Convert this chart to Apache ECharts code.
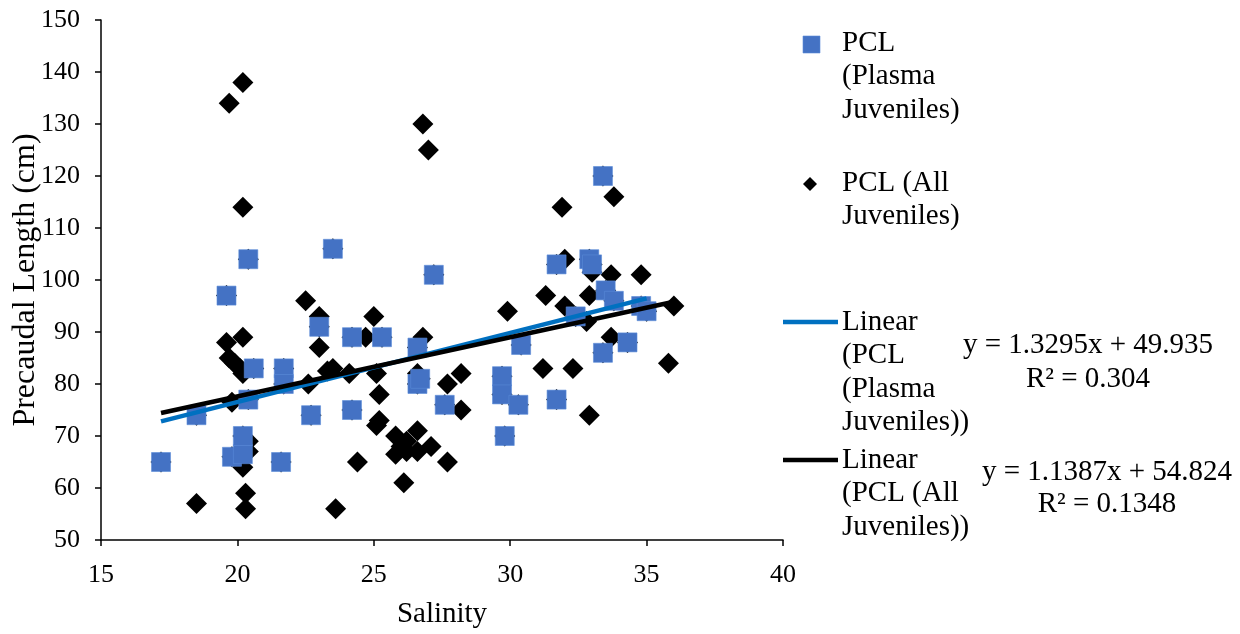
<!DOCTYPE html>
<html>
<head>
<meta charset="utf-8">
<script src="https://cdn.jsdelivr.net/npm/echarts@6/dist/echarts.min.js"></script>
<style>
  html, body { margin: 0; padding: 0; background: #ffffff; }
  #chart { width: 1240px; height: 634px; }
</style>
</head>
<body>
<div id="chart"></div>
<script>
// Salinity (x) and precaudal length in cm (y) for juveniles sampled for plasma
const plasmaJuveniles = [
  [17.2, 65], [18.5, 74], [19.6, 97], [19.8, 66], [20.2, 66.5], [20.2, 70],
  [20.4, 104], [20.6, 83], [20.4, 77], [21.7, 83], [21.7, 80], [21.6, 65],
  [22.7, 74], [23.0, 91], [23.5, 106], [24.2, 89], [24.2, 75], [25.3, 89],
  [26.6, 87], [26.6, 80], [26.7, 81], [27.2, 101], [27.6, 76], [29.7, 81.5],
  [29.7, 78], [29.8, 70], [30.4, 87.5], [30.3, 76], [31.7, 103], [31.7, 77],
  [32.9, 104], [33.0, 103], [33.4, 120], [33.5, 98], [33.8, 96], [32.4, 93],
  [33.4, 86], [34.3, 88], [34.8, 95], [35.0, 94]
];
// Remaining juveniles (measured only)
const otherJuveniles = [
  [18.5, 57], [19.7, 134], [20.2, 138], [20.2, 114], [19.6, 88], [20.2, 89],
  [19.7, 85], [19.9, 84], [20.1, 83], [20.2, 82], [19.8, 76.5], [20.4, 69],
  [20.4, 67], [20.2, 64], [20.3, 59], [20.3, 56], [22.5, 96], [22.6, 80],
  [23.0, 93], [23.0, 87], [23.3, 82.5], [23.5, 83], [24.1, 82], [24.7, 89],
  [25.0, 93], [25.1, 82], [25.2, 78], [25.2, 73], [25.1, 72], [24.4, 65],
  [23.6, 56], [25.8, 70], [25.8, 66.5], [26.0, 68], [26.2, 69], [26.6, 71],
  [26.6, 67], [27.1, 68], [26.1, 61], [26.2, 67], [26.8, 89], [26.6, 82],
  [26.8, 130], [27.0, 125], [27.7, 80], [28.2, 82], [28.2, 75], [27.7, 65],
  [29.9, 94], [31.9, 114], [32.0, 104], [33.0, 101.5], [33.7, 101], [34.8, 101],
  [33.8, 116], [31.3, 97], [32.9, 97], [32.0, 95], [32.8, 92], [36.0, 95],
  [33.7, 89], [31.2, 83], [32.3, 83], [35.8, 84], [32.9, 74]
];
const allJuveniles = plasmaJuveniles.concat(otherJuveniles);

// Linear fits: [slope, intercept] and R² labels
const plasmaFit = [1.3295, 49.935];
const allFit = [1.1387, 54.824];
const fitR2 = ['0.304', '0.1348'];

// Axis ranges: [min, max, interval]
const xRange = [15, 40, 5];
const yRange = [50, 150, 10];

// Legend labels, one entry per line
const legendPlasma = ['PCL', '(Plasma', 'Juveniles)'];
const legendAll = ['PCL (All', 'Juveniles)'];
const legendFitPlasma = ['Linear', '(PCL', '(Plasma', 'Juveniles))'];
const legendFitAll = ['Linear', '(PCL (All', 'Juveniles))'];

const FONT = '"Liberation Serif", "Times New Roman", serif';
const BLUE = '#4472C4';
const FIT_BLUE = '#0070C0';

function fitLine(points, fit) {
  const xs = points.map(p => p[0]);
  const lo = Math.min(...xs), hi = Math.max(...xs);
  return [[lo, fit[0] * lo + fit[1]], [hi, fit[0] * hi + fit[1]]];
}

function eqText(fit) {
  return 'y = ' + fit[0] + 'x + ' + fit[1];
}

// Text block: each line placed from its baseline
function textLines(lines, x, baseline, lineHeight, size, align) {
  return lines.map((t, i) => ({
    type: 'text',
    x: x,
    y: baseline + i * lineHeight - size * 0.34,
    style: {
      text: t, fill: '#000', font: size + 'px ' + FONT,
      align: align || 'left', verticalAlign: 'middle'
    }
  }));
}

const LH = 33.5;
const LS = 29;
const graphics = [].concat(
  [{ type: 'rect', shape: { x: 803, y: 36, width: 17, height: 17 },
     style: { fill: BLUE, stroke: '#5B8BD9', lineWidth: 0.6 } }],
  textLines(legendPlasma, 842, 53, LH, LS),
  [{ type: 'polygon', shape: { points: [[810, 177], [817, 184], [810, 191], [803, 184]] },
     style: { fill: '#000' } }],
  textLines(legendAll, 842, 193, LH, LS),
  [{ type: 'line', shape: { x1: 783, y1: 322, x2: 838, y2: 322 },
     style: { stroke: FIT_BLUE, lineWidth: 4.5 } }],
  textLines(legendFitPlasma, 842, 332, LH, LS),
  [{ type: 'line', shape: { x1: 783, y1: 460, x2: 838, y2: 460 },
     style: { stroke: '#000', lineWidth: 4.5 } }],
  textLines(legendFitAll, 842, 470, LH, LS),
  textLines([eqText(plasmaFit), 'R² = ' + fitR2[0]], 1088, 355, 34, LS, 'center'),
  textLines([eqText(allFit), 'R² = ' + fitR2[1]], 1107, 482, 32, LS, 'center')
);

const chart = echarts.init(document.getElementById('chart'), null, { renderer: 'canvas' });
chart.setOption({
  animation: false,
  backgroundColor: '#ffffff',
  grid: {
    left: 101, top: 20, width: 682, height: 520,
    containLabel: false, outerBoundsMode: 'none'
  },
  xAxis: {
    type: 'value', min: xRange[0], max: xRange[1], interval: xRange[2],
    name: 'Salinity', nameLocation: 'middle', nameGap: 60, nameMoveOverlap: false,
    nameTextStyle: { fontFamily: FONT, fontSize: 29, color: '#000' },
    axisLine: { lineStyle: { color: '#000', width: 1.5 } },
    axisTick: { inside: false, length: 6, lineStyle: { color: '#000', width: 1.5 } },
    axisLabel: { fontFamily: FONT, fontSize: 26, color: '#000', margin: 22 },
    splitLine: { show: false }
  },
  yAxis: {
    type: 'value', min: yRange[0], max: yRange[1], interval: yRange[2],
    name: 'Precaudal Length (cm)', nameLocation: 'middle', nameGap: 59, nameMoveOverlap: false,
    nameTextStyle: { fontFamily: FONT, fontSize: 32, color: '#000' },
    axisLine: { lineStyle: { color: '#000', width: 1.5 } },
    axisTick: { inside: false, length: 6, lineStyle: { color: '#000', width: 1.5 } },
    axisLabel: { fontFamily: FONT, fontSize: 26, color: '#000', margin: 21 },
    splitLine: { show: false }
  },
  series: [
    {
      name: 'PCL (All Juveniles)', type: 'scatter', data: allJuveniles,
      symbol: 'diamond', symbolSize: 21, z: 2,
      itemStyle: { color: '#000', opacity: 1 }
    },
    {
      name: 'PCL (Plasma Juveniles)', type: 'scatter', data: plasmaJuveniles,
      symbol: 'rect', symbolSize: 19, z: 3,
      itemStyle: { color: BLUE, borderColor: '#5B8BD9', borderWidth: 0.6, opacity: 1 }
    },
    {
      name: 'Linear (PCL (Plasma Juveniles))', type: 'line',
      data: fitLine(plasmaJuveniles, plasmaFit), showSymbol: false, symbol: 'none', z: 4,
      lineStyle: { color: FIT_BLUE, width: 4.5 }
    },
    {
      name: 'Linear (PCL (All Juveniles))', type: 'line',
      data: fitLine(allJuveniles, allFit), showSymbol: false, symbol: 'none', z: 5,
      lineStyle: { color: '#000', width: 4.5 }
    }
  ],
  graphic: graphics
});
</script>
</body>
</html>
